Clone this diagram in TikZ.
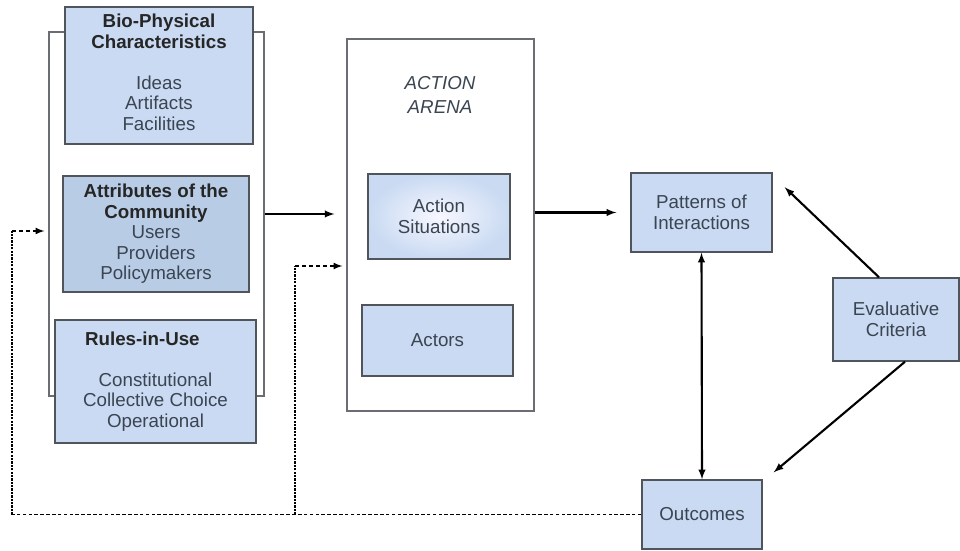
\documentclass[tikz,border=0pt]{standalone}
\usepackage{fontspec}
\setmainfont{Liberation Sans}
\usetikzlibrary{arrows,calc}
\definecolor{boxblue}{HTML}{C9DAF2}
\definecolor{boxdark}{HTML}{B8CCE6}
\definecolor{boxline}{HTML}{50555C}
\definecolor{txtgray}{HTML}{3B4552}
\newcommand{\boxtitle}[1]{\textbf{\color{black!85}#1}}

\begin{document}
\begin{tikzpicture}[x=0.3mm,y=-0.3mm,
    infobox/.style={draw=boxline,line width=1.2pt,fill=boxblue,align=center,text=txtgray,
      inner sep=0pt,font=\fontsize{16}{17.5}\selectfont},
    holder/.style={draw=boxline!85,line width=1pt,fill=white,inner sep=0pt},
    flow/.style={line width=1.8pt,-latex},
    fbline/.style={line width=1.9pt,densely dotted},
    fbtip/.style={line width=1.6pt,dashed,-latex}]
      \useasboundingbox (0,0) rectangle (960,551);
      \node[holder,minimum width=64.5mm,minimum height=109.2mm] (holder) at (156.5,214) {};
      \node[infobox,minimum width=56.4mm,minimum height=41.1mm] (bio) at (159,75.5)
        {\boxtitle{Bio-Physical}\\\boxtitle{Characteristics}\\[17.5pt]Ideas\\Artifacts\\Facilities\\[-11.5pt]};
      \node[infobox,fill=boxdark,minimum width=55.8mm,minimum height=34.8mm] (attr) at (156,234)
        {\boxtitle{Attributes of the}\\\boxtitle{Community}\hspace*{0.85em}\\Users\\Providers\\Policymakers};
      \node[infobox,minimum width=60.3mm,minimum height=36.9mm] (rules) at (155.5,381.5)
        {\boxtitle{Rules-in-Use}\hspace*{1.4em}\\[17.5pt]Constitutional\\Collective Choice\\Operational};
      \node[holder,minimum width=56.1mm,minimum height=111.6mm] (arena) at (440.5,225) {};
      \node[align=center,text=txtgray,font=\fontsize{16}{20}\selectfont\itshape] (arenatitle) at (440,95) {ACTION\\ARENA};
      \node[infobox,shading=radial,inner color=blue!3,outer color=boxblue,
        minimum width=42.6mm,minimum height=25.5mm] (situ) at (439,216.5) {Action\\Situations};
      \node[infobox,minimum width=45.3mm,minimum height=21.3mm] (actors) at (437.5,340.5) {Actors};
      \node[infobox,minimum width=42.3mm,minimum height=23.7mm] (patterns) at (701.5,212.5) {Patterns of\\Interactions};
      \node[infobox,minimum width=37.8mm,minimum height=24.9mm] (evalc) at (896,319.5) {Evaluative\\Criteria};
      \node[infobox,minimum width=36mm,minimum height=20.7mm] (outc) at (702,514.5) {Outcomes};
      \draw[flow,shorten >=3.6mm] (holder.east) -- (holder.east -| arena.west);
      \draw[flow,shorten >=4.2mm] (arena.east |- patterns.west) -- (patterns.west);
      \draw[flow,latex-latex] (patterns.south) -- (outc.north);
      \draw[flow] ([xshift=-5.1mm]evalc.north) -- ($(patterns.north east)+(12,15)$);
      \draw[flow] ([xshift=2.7mm]evalc.south) -- ($(outc.north east)+(11,-7)$);
      \coordinate (fbleft) at (12,231);
      \coordinate (fbmid) at (295,266);
      \draw[line width=1.3pt,densely dashed] (outc.west) -- (fbleft |- outc.west);
      \draw[fbline] (fbleft |- outc.west) -- (fbleft);
      \draw[fbtip] (fbleft) -- ($(holder.west |- fbleft)+(-4,0)$);
      \draw[fbline] (fbmid |- outc.west) -- (fbmid);
      \draw[fbtip] (fbmid) -- ($(arena.west |- fbmid)+(-4,0)$);
\end{tikzpicture}
\end{document}
